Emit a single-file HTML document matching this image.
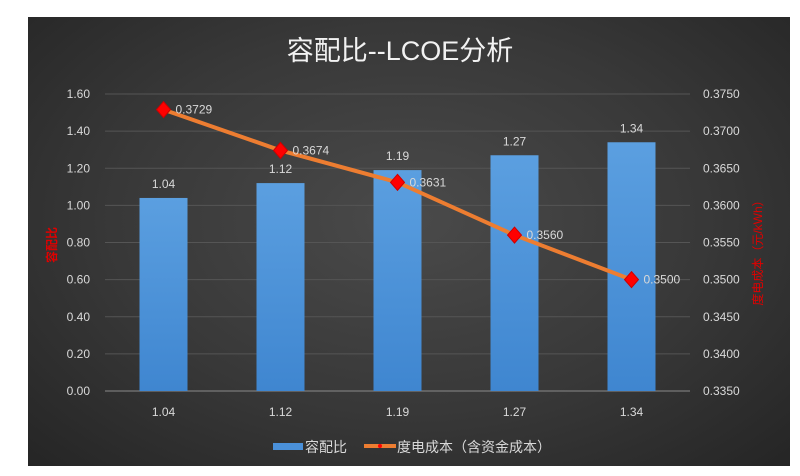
<!DOCTYPE html>
<html><head><meta charset="utf-8">
<style>
body{margin:0;width:800px;height:476px;background:#fff;overflow:hidden;font-family:"Liberation Sans","Noto Sans CJK SC",sans-serif;}
#panel{position:absolute;left:28px;top:17px;width:762px;height:449px;background:radial-gradient(ellipse at 50% 45%,#4a4a4a 0%,#383838 55%,#252525 100%);}
svg{position:absolute;left:0;top:0;}
</style></head><body>
<div id="panel"></div>
<svg id="chart" width="800" height="476">
<defs><linearGradient id="bg" x1="0" y1="0" x2="0" y2="1"><stop offset="0" stop-color="#5b9fe0"/><stop offset="1" stop-color="#3f86d0"/></linearGradient></defs>
</svg>
<script>
const categories=["1.04","1.12","1.19","1.27","1.34"];
const ratioValues=[1.04,1.12,1.19,1.27,1.34];
const costValues=[0.3729,0.3674,0.3631,0.3560,0.3500];
const leftTicks=[0,0.2,0.4,0.6,0.8,1.0,1.2,1.4,1.6];
const rightTicks=[0.335,0.34,0.345,0.35,0.355,0.36,0.365,0.37,0.375];
const NS="http://www.w3.org/2000/svg";
const svg=document.getElementById('chart');
const L=105,R=690,T=94,B=391;
const step=(R-L)/categories.length;
const xc=i=>L+step*(i+0.5);
const yL=v=>B-(v-0)/(1.6-0)*(B-T);
const yR=v=>B-(v-0.335)/(0.375-0.335)*(B-T);
function mk(tag,attrs,parent){const e=document.createElementNS(NS,tag);for(const k in attrs)e.setAttribute(k,attrs[k]);(parent||svg).appendChild(e);return e;}
function txt(s,attrs){const e=mk('text',Object.assign({fill:'#d9d9d9','font-size':12},attrs));e.textContent=s;return e;}
let t=txt('容配比--LCOE分析',{x:400,y:60,'text-anchor':'middle','font-size':27,fill:'#f2f2f2'});


leftTicks.forEach((v,i)=>{
 const g=mk('line',{x1:L,x2:R,y1:yL(v),y2:yL(v),stroke:i==0?'#8a8a8a':'#555','stroke-width':1});
 
 
 const l=txt(v.toFixed(2),{x:90,y:yL(v)+4,'text-anchor':'end'});
 
 
});
rightTicks.forEach(v=>{
 const l=txt(v.toFixed(4),{x:703,y:yR(v)+4});
 
 
});
ratioValues.forEach((v,i)=>{
 const b=mk('rect',{x:xc(i)-24,y:yL(v),width:48,height:B-yL(v),fill:'url(#bg)'});
 
 
 const l=txt(v.toFixed(2),{x:xc(i),y:yL(v)-10,'text-anchor':'middle'});
 
 
 const c=txt(categories[i],{x:xc(i),y:416,'text-anchor':'middle'});
 
 
});
const pl=mk('polyline',{points:costValues.map((v,i)=>xc(i)+','+yR(v)).join(' '),fill:'none',stroke:'#ed7d31','stroke-width':4});


costValues.forEach((v,i)=>{
 const x=xc(i),y=yR(v);
 const m=mk('polygon',{points:`${x},${y-8} ${x+7},${y} ${x},${y+8} ${x-7},${y}`,fill:'#ff0000',stroke:'#c00','stroke-width':1});
 
 
 const l=txt(v.toFixed(4),{x:x+12,y:y+4});
 
 
});
let a=txt('容配比',{x:0,y:0,fill:'#e00000','font-size':12,'font-weight':'bold','text-anchor':'middle',transform:'translate(56,245) rotate(-90)'});


a=txt('度电成本（元/kWh）',{x:0,y:0,fill:'#e00000','font-size':12,'text-anchor':'middle',transform:'translate(762,250) rotate(-90)'});


let s=mk('rect',{x:273,y:443,width:30,height:7,fill:'#4a90d9'});


a=txt('容配比',{x:305,y:452,'font-size':14});


s=mk('line',{x1:364,x2:396,y1:446,y2:446,stroke:'#ed7d31','stroke-width':4});


s=mk('circle',{cx:380,cy:446,r:2,fill:'#f00'});


a=txt('度电成本（含资金成本）',{x:397,y:452,'font-size':14});


</script>
</body></html>
